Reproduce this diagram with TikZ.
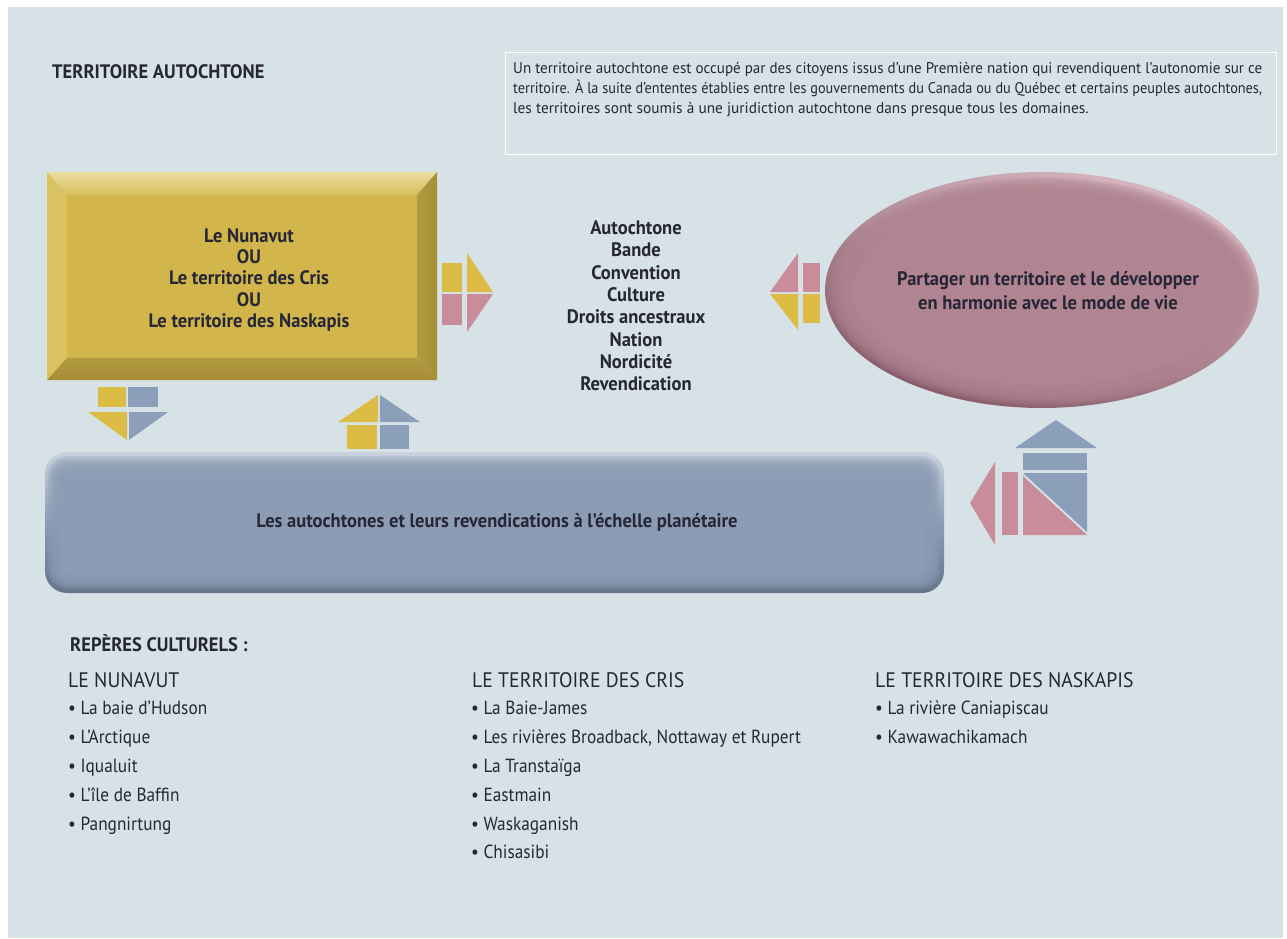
\documentclass[tikz,border=0pt]{standalone}
\usepackage{graphicx}
\usepackage{fontspec}
\setmainfont{PT Sans}
\newfontfamily\itemfont[FakeStretch=0.91]{PT Sans}
\newfontfamily\descfont[FakeStretch=0.99]{PT Sans}
\newfontfamily\boldfont[FakeStretch=0.95]{PT Sans}
\newfontfamily\headfont[FakeStretch=0.94]{PT Sans}
\newfontfamily\titlefont[FakeStretch=0.95]{PT Sans}

\definecolor{panel}{HTML}{D7E2E7}
\definecolor{ink}{HTML}{262636}
\definecolor{gold}{HTML}{D2B64C}
\definecolor{goldlight}{HTML}{ECDDA2}
\definecolor{goldleft}{HTML}{DAC261}
\definecolor{golddark}{HTML}{A88E37}
\definecolor{mauve}{HTML}{B08490}
\definecolor{mauvelight}{HTML}{D8B8C2}
\definecolor{mauvedark}{HTML}{875A69}
\definecolor{slate}{HTML}{8B9CB4}
\definecolor{slatelight}{HTML}{CAD2DE}
\definecolor{slatedark}{HTML}{66758C}
\definecolor{ayellow}{HTML}{DCBC45}
\definecolor{apink}{HTML}{C98C9B}
\definecolor{ablue}{HTML}{8C9FBA}

% one line of the definition, set to the full measure
\newcommand{\fullline}[1]{\resizebox{749pt}{\height}{#1}}

\tikzset{
  txt/.style={text=ink, inner sep=0pt},
  boxtext/.style={txt, align=center, font=\boldfont\bfseries\fontsize{19.5}{21.3}\selectfont},
  heading/.style={txt, anchor=west, font=\titlefont\bfseries\fontsize{19.5}{19.5}\selectfont},
  colhead/.style={txt, anchor=base west, font=\headfont\fontsize{21}{21}\selectfont},
  item/.style={txt, anchor=base west, font=\itemfont\fontsize{19}{19}\selectfont},
  desctext/.style={txt, anchor=north west, align=left, font=\descfont\fontsize{15.5}{20}\selectfont},
}

\begin{document}
\begin{tikzpicture}[x=1pt,y=-1pt]
\useasboundingbox (0,0) rectangle (1287,938);
\fill[white] (0,0) rectangle (1287,938);
\fill[panel] (8,7) rectangle (1283,938);

% title and definition box
\node[heading] (title) at (52,72) {TERRITOIRE AUTOCHTONE};
\node[draw=white, line width=1.3pt, anchor=north west, minimum width=771pt, minimum height=102pt, inner sep=0pt] (defbox) at (505,52) {};
\node[desctext] (def) at (513,62) {%
\fullline{Un territoire autochtone est occupé par des citoyens issus d’une Première nation qui revendiquent l’autonomie sur ce}\\
\fullline{territoire. À la suite d’ententes établies entre les gouvernements du Canada ou du Québec et certains peuples autochtones,}\\
les territoires sont soumis à une juridiction autochtone dans presque tous les domaines.};

% golden bevelled box
\fill[gold] (67,195) rectangle (417,358);
\shade[top color=goldlight, bottom color=gold!80!goldlight] (47,172) -- (437,172) -- (417,195) -- (67,195) -- cycle;
\fill[goldleft] (47,172) -- (67,195) -- (67,358) -- (47,380) -- cycle;
\shade[top color=gold!85!black, bottom color=golddark] (47,380) -- (67,358) -- (417,358) -- (437,380) -- cycle;
\shade[left color=gold!85!black, right color=golddark] (437,172) -- (417,195) -- (417,358) -- (437,380) -- cycle;
\node[boxtext] (territory) at (249,280) {Le Nunavut\\OU\\Le territoire des Cris\\OU\\Le territoire des Naskapis};

% key words
\node[boxtext, font=\boldfont\bfseries\fontsize{19.5}{22.3}\selectfont] (terms) at (636,306)
  {Autochtone\\Bande\\Convention\\Culture\\Droits ancestraux\\Nation\\Nordicité\\Revendication};

% mauve ellipse
\shade[top color=mauvelight, bottom color=mauvedark, shading angle=-20] (1042,290) ellipse [x radius=217, y radius=118];
\foreach \k in {0,...,9}
  \fill[mauve, opacity=0.25] (1043+0.3*\k,291) ellipse [x radius=214-2*\k, y radius=114-2*\k];
\fill[mauve] (1046,292) ellipse [x radius=193, y radius=93];
\node[boxtext, font=\boldfont\bfseries\fontsize{19.5}{24}\selectfont] (goal) at (1048,291)
  {Partager un territoire et le développer\\en harmonie avec le mode de vie};

% slate bar
\shade[top color=slatelight, bottom color=slatedark, middle color=slate, rounded corners=22] (45,452) rectangle (944,593);
\foreach \k in {0,...,7}
  \fill[slate, opacity=0.3, rounded corners=20-\k] (48+1.8*\k,456+2.4*\k) rectangle (940-1.8*\k,589-1.8*\k);
\fill[slate, rounded corners=10] (62,475) rectangle (926,575);
\node[boxtext] (world) at (497,522) {Les autochtones et leurs revendications à l’échelle planétaire};

% arrow marks
% right-pointing, yellow over pink
\fill[ayellow] (442,263) rectangle (462,292);
\fill[apink] (442,294) rectangle (462,325);
\fill[ayellow] (467,253) -- (493,292) -- (467,292) -- cycle;
\fill[apink] (467,294) -- (493,294) -- (467,332) -- cycle;
% left-pointing, pink over yellow
\fill[apink] (770,292) -- (798,253) -- (798,292) -- cycle;
\fill[ayellow] (770,294) -- (798,294) -- (798,330) -- cycle;
\fill[apink] (803,263) rectangle (820,292);
\fill[ayellow] (803,294) rectangle (820,323);
% down-pointing, yellow and blue
\fill[ayellow] (98,387) rectangle (126,407);
\fill[ablue] (128,387) rectangle (158,407);
\fill[ayellow] (88,412) -- (127,412) -- (127,440) -- cycle;
\fill[ablue] (129,412) -- (168,412) -- (129,440) -- cycle;
% up-pointing, yellow and blue
\fill[ayellow] (338,422) -- (378,422) -- (378,395) -- cycle;
\fill[ablue] (380,422) -- (420,422) -- (380,395) -- cycle;
\fill[ayellow] (347,425) rectangle (377,449);
\fill[ablue] (380,425) rectangle (409,449);
% combined blue up / pink left
\fill[ablue] (1015,448) -- (1097,448) -- (1056,420) -- cycle;
\fill[ablue] (1023,453) rectangle (1087,470);
\fill[ablue] (1023,473) -- (1087,473) -- (1087,532) -- cycle;
\fill[apink] (1023,476) -- (1087,535) -- (1023,535) -- cycle;
\fill[apink] (1002,472) rectangle (1018,535);
\fill[apink] (970,503) -- (995,462) -- (995,545) -- cycle;

% cultural landmarks
\node[heading] (reperes) at (70,643) {REPÈRES CULTURELS :};
\node[colhead] (hnun) at (68,687) {LE NUNAVUT};
\node[colhead] (hcri) at (472,687) {LE TERRITOIRE DES CRIS};
\node[colhead] (hnas) at (875,687) {LE TERRITOIRE DES NASKAPIS};

\foreach \t [count=\i] in {La baie d’Hudson, L’Arctique, Iqualuit, L’île de Baffin, Pangnirtung}
  \node[item] (nun\i) at (68,686+28.8*\i) {• \t};
\foreach \t [count=\i] in {La Baie-James, {Les rivières Broadback, Nottaway et Rupert}, La Transtaïga, Eastmain, Waskaganish, Chisasibi}
  \node[item] (cri\i) at (471,686+28.8*\i) {• \t};
\foreach \t [count=\i] in {La rivière Caniapiscau, Kawawachikamach}
  \node[item] (nas\i) at (875,686+28.8*\i) {• \t};
\end{tikzpicture}
\end{document}
